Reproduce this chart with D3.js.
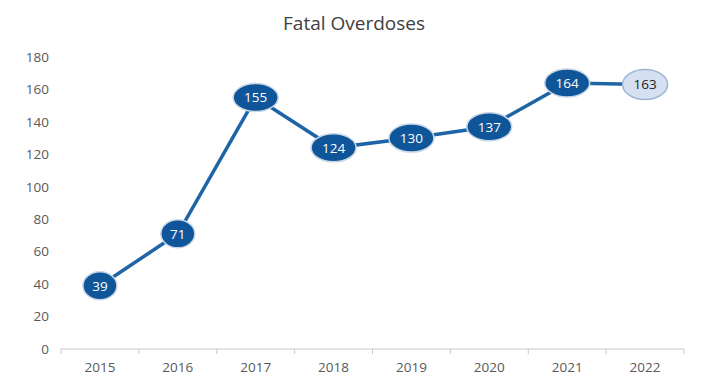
<!DOCTYPE html>
<html>
<head>
<meta charset="utf-8">
<script src="https://cdn.jsdelivr.net/npm/d3@7"></script>
<style>
  body { margin: 0; background: #fff; }
  svg { display: block; }
</style>
</head>
<body>
<div id="chart"></div>
<script>
// data
const years = ["2015", "2016", "2017", "2018", "2019", "2020", "2021", "2022"];
const deaths = [39, 71, 155, 124, 130, 137, 164, 163];
const yTicks = [0, 20, 40, 60, 80, 100, 120, 140, 160, 180];
const title = "Fatal Overdoses";

const width = 702, height = 384;
const margin = {top: 57, right: 18, bottom: 35, left: 61};

const darkBlue = "#0f5599";
const lineColor = "#1d65a6";
const lightFill = "#d5e1f0";

const svg = d3.select("#chart").append("svg")
    .attr("width", width)
    .attr("height", height);

// Scales
const x = d3.scaleBand()
    .domain(years)
    .range([margin.left, width - margin.right]);

const y = d3.scaleLinear()
    .domain([0, 180])
    .range([height - margin.bottom, margin.top]);

// Title
svg.append("text")
    .attr("x", 354)
    .attr("y", 30)
    .attr("text-anchor", "middle")
    .attr("font-family", "Open Sans, sans-serif")
    .attr("font-size", "19px")
    .attr("fill", "#404040")
    .text(title);

// Y axis labels (no axis line, no grid)
svg.append("g")
    .selectAll("text")
    .data(yTicks)
    .join("text")
    .attr("x", 49)
    .attr("y", d => y(d))
    .attr("dy", "0.35em")
    .attr("text-anchor", "end")
    .attr("font-family", "Open Sans, sans-serif")
    .attr("font-size", "13.5px")
    .attr("fill", "#595959")
    .text(d => d);

// X axis
const xAxis = svg.append("g")
    .attr("transform", `translate(0, ${y(0)})`);

xAxis.append("line")
    .attr("x1", x.range()[0])
    .attr("x2", x.range()[1])
    .attr("stroke", "#c8c8c8")
    .attr("stroke-width", 1);

const boundaries = years.map(d => x(d)).concat([x.range()[1]]);
xAxis.selectAll("line.tick")
    .data(boundaries)
    .join("line")
    .attr("class", "tick")
    .attr("x1", d => d)
    .attr("x2", d => d)
    .attr("y1", 0)
    .attr("y2", 5)
    .attr("stroke", "#c8c8c8");

xAxis.selectAll("text")
    .data(years)
    .join("text")
    .attr("x", d => x(d) + x.bandwidth() / 2)
    .attr("y", 23)
    .attr("text-anchor", "middle")
    .attr("font-family", "Open Sans, sans-serif")
    .attr("font-size", "13.5px")
    .attr("fill", "#595959")
    .text(d => d);

const data = years.map((yr, i) => ({year: yr, value: deaths[i], last: i === years.length - 1}));
const cx = d => x(d.year) + x.bandwidth() / 2;

// Line
svg.append("path")
    .datum(data)
    .attr("fill", "none")
    .attr("stroke", lineColor)
    .attr("stroke-width", 3.5)
    .attr("d", d3.line().x(cx).y(d => y(d.value)));

// Data label ellipses
const pts = svg.append("g")
    .selectAll("g")
    .data(data)
    .join("g")
    .attr("transform", d => `translate(${cx(d)}, ${y(d.value)})`);

pts.append("ellipse")
    .attr("rx", d => String(d.value).length > 2 ? 22.5 : 17)
    .attr("ry", d => d.last ? 15 : 14)
    .attr("fill", d => d.last ? lightFill : darkBlue)
    .attr("stroke", d => d.last ? "#9fb6d3" : "#c9d6e6")
    .attr("stroke-width", 1.5);

pts.append("text")
    .attr("text-anchor", "middle")
    .attr("dy", "0.36em")
    .attr("font-family", "Open Sans, sans-serif")
    .attr("font-size", "13.5px")
    .attr("fill", d => d.last ? "#222" : "#fff")
    .text(d => d.value);
</script>
</body>
</html>
